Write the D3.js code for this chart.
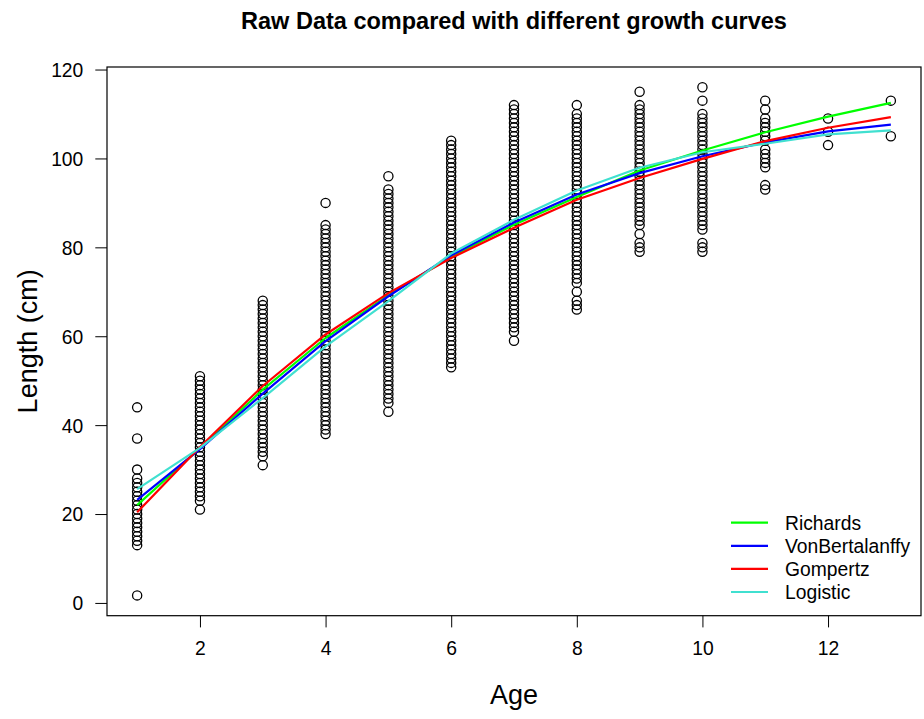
<!DOCTYPE html>
<html>
<head>
<meta charset="utf-8">
<script src="https://cdn.jsdelivr.net/npm/d3@7"></script>
<style>
  html, body { margin: 0; padding: 0; background: #fff; }
  svg { display: block; font-family: "Liberation Sans", Arial, Helvetica, sans-serif; }
</style>
</head>
<body>
<svg id="chart" width="924" height="719"></svg>
<script>
// Observed lengths (cm) for each age class
const ages = [1, 2, 3, 4, 5, 6, 7, 8, 9, 10, 11, 12, 13];

const lenAge1 = [1.7, 13, 14, 15, 16, 17, 18, 19, 20, 21, 22, 23, 24, 25, 26, 27, 28, 30, 37, 44];
const lenAge2 = [21, 23, 24, 25, 26, 27, 28, 29, 30, 31, 32, 33, 34, 35, 36, 37, 38, 39, 40, 41, 42, 43, 44, 45, 46, 47, 48, 49, 50, 51];
const lenAge3 = [31, 33, 34, 35, 36, 37, 38, 39, 40, 41, 42, 43, 44, 45, 46, 47, 48, 49, 50, 51, 52, 53, 54, 55, 56, 57, 58, 59, 60, 61, 62, 63, 64, 65, 66, 67, 68];
const lenAge4 = [38, 39, 40, 41, 42, 43, 44, 45, 46, 47, 48, 49, 50, 51, 52, 53, 54, 55, 56, 57, 58, 59, 60, 61, 62, 63, 64, 65, 66, 67, 68, 69, 70, 71, 72, 73, 74, 75, 76, 77, 78, 79, 80, 81, 82, 83, 84, 85, 90];
const lenAge5 = [43, 45, 46, 47, 48, 49, 50, 51, 52, 53, 54, 55, 56, 57, 58, 59, 60, 61, 62, 63, 64, 65, 66, 67, 68, 69, 70, 71, 72, 73, 74, 75, 76, 77, 78, 79, 80, 81, 82, 83, 84, 85, 86, 87, 88, 89, 90, 91, 92, 93, 96];
const lenAge6 = [53, 54, 55, 56, 57, 58, 59, 60, 61, 62, 63, 64, 65, 66, 67, 68, 69, 70, 71, 72, 73, 74, 75, 76, 77, 78, 79, 80, 81, 82, 83, 84, 85, 86, 87, 88, 89, 90, 91, 92, 93, 94, 95, 96, 97, 98, 99, 100, 101, 102, 103, 104];
const lenAge7 = [59, 61, 62, 63, 64, 65, 66, 67, 68, 69, 70, 71, 72, 73, 74, 75, 76, 77, 78, 79, 80, 81, 82, 83, 84, 85, 86, 87, 88, 89, 90, 91, 92, 93, 94, 95, 96, 97, 98, 99, 100, 101, 102, 103, 104, 105, 106, 107, 108, 109, 110, 111, 112];
const lenAge8 = [66, 67, 68, 70, 72, 73, 74, 75, 76, 77, 78, 79, 80, 81, 82, 83, 84, 85, 86, 87, 88, 89, 90, 91, 92, 93, 94, 95, 96, 97, 98, 99, 100, 101, 102, 103, 104, 105, 106, 107, 108, 109, 110, 112];
const lenAge9 = [79, 80, 81, 83, 85, 86, 87, 88, 89, 90, 91, 92, 93, 94, 95, 96, 97, 98, 99, 100, 101, 102, 103, 104, 105, 106, 107, 108, 109, 110, 111, 112, 115];
const lenAge10 = [79, 80, 81, 84, 85, 86, 87, 88, 89, 90, 91, 92, 93, 94, 95, 96, 97, 98, 99, 100, 101, 102, 103, 104, 105, 106, 107, 108, 109, 110, 113, 116];
const lenAge11 = [93, 94, 98, 99, 100, 101, 102, 104, 105, 106, 107, 108, 109, 111, 113];
const lenAge12 = [103, 106, 109];
const lenAge13 = [105, 113];

const lengthsByAge = [lenAge1, lenAge2, lenAge3, lenAge4, lenAge5, lenAge6, lenAge7,
                      lenAge8, lenAge9, lenAge10, lenAge11, lenAge12, lenAge13];

// Fitted growth curves, predicted length at each age
const richards = [22.0, 34.8, 48.0, 59.6, 69.2, 77.9, 85.1, 91.3, 97.3, 101.8, 105.9, 109.4, 112.5];
const vonBertalanffy = [23.2, 34.6, 47.1, 58.9, 69.0, 78.2, 85.6, 91.9, 96.7, 100.5, 103.6, 106.1, 107.6];
const gompertz = [20.4, 35.1, 48.8, 60.4, 69.7, 77.6, 84.4, 90.7, 95.6, 99.9, 103.9, 106.9, 109.3];
const logistic = [25.6, 34.9, 46.1, 57.7, 67.9, 78.6, 86.2, 92.8, 97.9, 101.4, 103.3, 105.4, 106.3];

const curveNames = ["Richards", "VonBertalanffy", "Gompertz", "Logistic"];
const curveColors = ["#00ff00", "#0000ff", "#ff0000", "#40e0d0"];

const xTicks = [2, 4, 6, 8, 10, 12];
const yTicks = [0, 20, 40, 60, 80, 100, 120];

const titleText = "Raw Data compared with different growth curves";
const xLabel = "Age";
const yLabel = "Length (cm)";

// ---- layout ----
const svg = d3.select("#chart");
const plot = { left: 107, right: 921, top: 67, bottom: 615.7 };
const baseFont = 19.3;

const points = [];
ages.forEach((a, i) => lengthsByAge[i].forEach(v => points.push({ age: a, len: v })));

// axis ranges padded by 4% on each side
function padded(ext) {
  const d = (ext[1] - ext[0]) * 0.04;
  return [ext[0] - d, ext[1] + d];
}
const x = d3.scaleLinear().domain(padded(d3.extent(ages))).range([plot.left, plot.right]);
const y = d3.scaleLinear().domain(padded(d3.extent(points, p => p.len))).range([plot.bottom, plot.top]);

// title
svg.append("text")
  .attr("x", (plot.left + plot.right) / 2)
  .attr("y", 29)
  .attr("text-anchor", "middle")
  .attr("font-weight", "bold")
  .attr("font-size", 23.5)
  .text(titleText);

// axes
const tickLen = 11.7;
const xAxis = svg.append("g")
  .attr("transform", `translate(0,${plot.bottom})`)
  .call(d3.axisBottom(x).tickValues(xTicks).tickSize(tickLen).tickSizeOuter(0).tickPadding(10));
const yAxis = svg.append("g")
  .attr("transform", `translate(${plot.left},0)`)
  .call(d3.axisLeft(y).tickValues(yTicks).tickSize(tickLen).tickSizeOuter(0).tickPadding(12));

[xAxis, yAxis].forEach(g => {
  g.select(".domain").remove();
  g.selectAll(".tick line").attr("stroke", "#000").attr("stroke-width", 1);
  g.selectAll(".tick text")
    .attr("font-size", baseFont)
    .attr("font-family", "Liberation Sans, Arial, Helvetica, sans-serif")
    .attr("fill", "#000");
});
xAxis.selectAll(".tick text").attr("dy", null).attr("y", 39.5);
yAxis.selectAll(".tick text").attr("dy", "0.36em");

// axis titles
svg.append("text")
  .attr("x", (plot.left + plot.right) / 2)
  .attr("y", 704)
  .attr("text-anchor", "middle")
  .attr("font-size", 27)
  .text(xLabel);
svg.append("text")
  .attr("transform", `translate(37,${(plot.top + plot.bottom) / 2}) rotate(-90)`)
  .attr("text-anchor", "middle")
  .attr("font-size", 27)
  .text(yLabel);

// raw data points
svg.append("g")
  .selectAll("circle")
  .data(points)
  .join("circle")
  .attr("cx", d => x(d.age))
  .attr("cy", d => y(d.len))
  .attr("r", 4.6)
  .attr("fill", "none")
  .attr("stroke", "#000")
  .attr("stroke-width", 1.3);

// growth curves
const curveSeries = [richards, vonBertalanffy, gompertz, logistic];
const line = d3.line().x((d, i) => x(ages[i])).y(d => y(d));
svg.append("g")
  .selectAll("path")
  .data(curveSeries)
  .join("path")
  .attr("d", d => line(d))
  .attr("fill", "none")
  .attr("stroke", (d, i) => curveColors[i])
  .attr("stroke-width", 2.2)
  .attr("stroke-linejoin", "round");

// plot frame
svg.append("rect")
  .attr("x", plot.left)
  .attr("y", plot.top)
  .attr("width", plot.right - plot.left)
  .attr("height", plot.bottom - plot.top)
  .attr("fill", "none")
  .attr("stroke", "#000")
  .attr("stroke-width", 1.2);

// legend
const legend = svg.append("g");
const legY0 = 522.7, legStep = 23.1;
curveNames.forEach((name, i) => {
  const yy = legY0 + i * legStep;
  legend.append("line")
    .attr("x1", 731).attr("x2", 768)
    .attr("y1", yy).attr("y2", yy)
    .attr("stroke", curveColors[i])
    .attr("stroke-width", 2.2);
  legend.append("text")
    .attr("x", 785)
    .attr("y", yy)
    .attr("dy", "0.36em")
    .attr("font-size", baseFont)
    .text(name);
});
</script>
</body>
</html>
